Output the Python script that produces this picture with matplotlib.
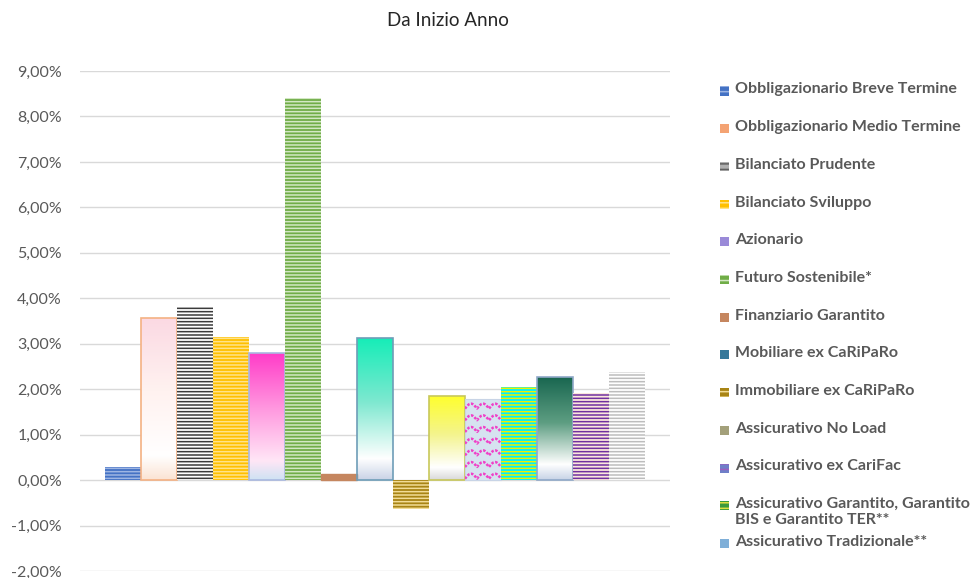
import numpy as np
import matplotlib.pyplot as plt
from matplotlib.patches import Rectangle
from matplotlib.colors import LinearSegmentedColormap

plt.rcParams['font.family'] = ['Lato', 'DejaVu Sans']
plt.rcParams['hatch.linewidth'] = 1.1

# ----------- DATA ------------
title = "Da Inizio Anno"
legend_names = [
    "Obbligazionario Breve Termine",
    "Obbligazionario Medio Termine",
    "Bilanciato Prudente",
    "Bilanciato Sviluppo",
    "Azionario",
    "Futuro Sostenibile*",
    "Finanziario Garantito",
    "Mobiliare ex CaRiPaRo",
    "Immobiliare ex CaRiPaRo",
    "Assicurativo No Load",
    "Assicurativo ex CariFac",
    "Assicurativo Garantito, Garantito\nBIS e Garantito TER**",
    "Assicurativo Tradizionale**",
]
# 15 bars in the chart, the legend only shows the first 13
values = [0.29, 3.56, 3.80, 3.15, 2.79, 8.41, 0.14, 3.12, -0.63,
          1.84, 1.78, 2.04, 2.27, 1.91, 2.38]
ticks = np.arange(-2, 10, 1)
tick_labels = [f"{t:.2f}".replace(".", ",") + "%" for t in ticks]

# ----------- STYLES ------------
styles = [
    ("stripe", "#4472C4", "#9DB5E3"),
    ("grad", ["#FBD9E3", "#FFF2F0", "#FFFFFF", "#FBE3D3"], "#F4B183"),
    ("stripe", "#FFFFFF", "#3A3A3A"),
    ("stripe", "#FFC000", "#FFE38A"),
    ("grad", ["#FF3CC8", "#FF9BE0", "#FFE6F6", "#CFE2F3"], "#A9B8E0"),
    ("stripe", "#70AD47", "#D3E8C4"),
    ("solid", "#C5865F", "#C5865F"),
    ("grad", ["#16EDB8", "#7EE8D0", "#FFFFFF", "#C9D3E6"], "#6E9DB8"),
    ("stripe", "#A88414", "#F2DC96"),
    ("grad", ["#FFFF2E", "#F4F48C", "#FFFFFF", "#D8D8D8"], "#C8C85A"),
    ("wave", "#D6E3F0", "#F040C8"),
    ("stripe", "#00F0FF", "#F0F000"),
    ("grad", ["#17654F", "#5E9E82", "#FFFFFF", "#C7D3E6"], "#8FA8C8"),
    ("stripe", "#FBE7DC", "#7030A0"),
    ("stripe", "#FFFFFF", "#BDBDBD"),
]
legend_marks = [
    ("#4472C4", "#9DB5E3"), ("#F4A373", None), ("#B0B0B0", "#606060"),
    ("#FFC000", "#FFE38A"), ("#9A8AD8", None), ("#70AD47", "#D3E8C4"),
    ("#C5865F", None), ("#35789A", None), ("#A88414", "#F2DC96"),
    ("#A3A07A", None), ("#6F7FC8", "#9A5FC0"), ("#3C9A3C", "#E0E040"),
    ("#7FAFD8", None),
]

# ----------- FIGURE ------------
W, H = 977, 578
fig = plt.figure(figsize=(W / 100, H / 100), dpi=100)
ax = fig.add_axes([80 / W, 7 / H, 590 / W, 500 / H])

x = np.arange(len(values))
bars = ax.bar(x, values, width=1.0, zorder=2)

for bar, st in zip(bars, styles):
    kind = st[0]
    x0, x1 = bar.get_x(), bar.get_x() + bar.get_width()
    y0, y1 = sorted([bar.get_y(), bar.get_y() + bar.get_height()])
    if kind == "stripe":
        bar.set_facecolor(st[1])
        bar.set_edgecolor(st[2])
        bar.set_linewidth(0)
        bar.set_hatch("-----")
    elif kind == "solid":
        bar.set_facecolor(st[1])
        bar.set_edgecolor(st[2])
    elif kind == "grad":
        bar.set_facecolor("none")
        bar.set_edgecolor(st[2])
        bar.set_linewidth(1.2)
        cmap = LinearSegmentedColormap.from_list(
            "g", list(zip([0.0, 0.45, 0.85, 1.0], st[1])))
        grad = np.linspace(0, 1, 256).reshape(-1, 1)
        im = ax.imshow(grad, cmap=cmap, aspect="auto", origin="upper",
                       extent=(x0, x1, y0, y1), zorder=1.5)
        im.set_clip_path(bar)
    elif kind == "wave":
        bar.set_facecolor(st[1])
        bar.set_edgecolor("#C8D4E6")
        bar.set_linewidth(0.8)
        xx = np.linspace(x0, x1, 200)
        period = (x1 - x0) / 3
        amp = 0.11
        for yb in np.arange(y0 + 0.03, y1 + 0.3, 0.257):
            yy = yb + amp * np.abs(np.sin(np.pi * (xx - x0) / period))
            ln, = ax.plot(xx, yy, color=st[2], lw=1.8,
                          linestyle=(0, (1.0, 0.6)), zorder=3)
            ln.set_clip_path(bar)

ax.set_xlim(-0.5 - 25 / 36, len(values) - 0.5 + 25 / 36)
ax.set_ylim(-2, 9)
ax.set_yticks(ticks)
ax.set_yticklabels(tick_labels)
ax.set_xticks([])
ax.tick_params(axis="y", length=0, pad=13, labelsize=11.5, labelcolor="#595959")
for s in ax.spines.values():
    s.set_visible(False)
ax.grid(axis="y", color="#D9D9D9", lw=1.0, zorder=0)
ax.set_axisbelow(True)

fig.text(448 / W, 1 - 20 / H, title, ha="center", va="center",
         fontsize=13.5, color="#262626")

# ----------- LEGEND ------------
step = 37.7
for i, (name, mk) in enumerate(zip(legend_names, legend_marks)):
    yc = 91 + i * step
    fig.text(735 / W, 1 - (yc - 8.5) / H, name, ha="left", va="top",
             fontsize=11.5, fontweight="bold", color="#595959", linespacing=1.15)
    face, hc = mk
    r = Rectangle((720 / W, 1 - (yc + 4.5) / H), 9 / W, 9 / H,
                  transform=fig.transFigure, facecolor=face,
                  edgecolor=hc if hc else face, lw=0, hatch="---" if hc else None)
    fig.add_artist(r)

fig.savefig("out.png", dpi=100)
